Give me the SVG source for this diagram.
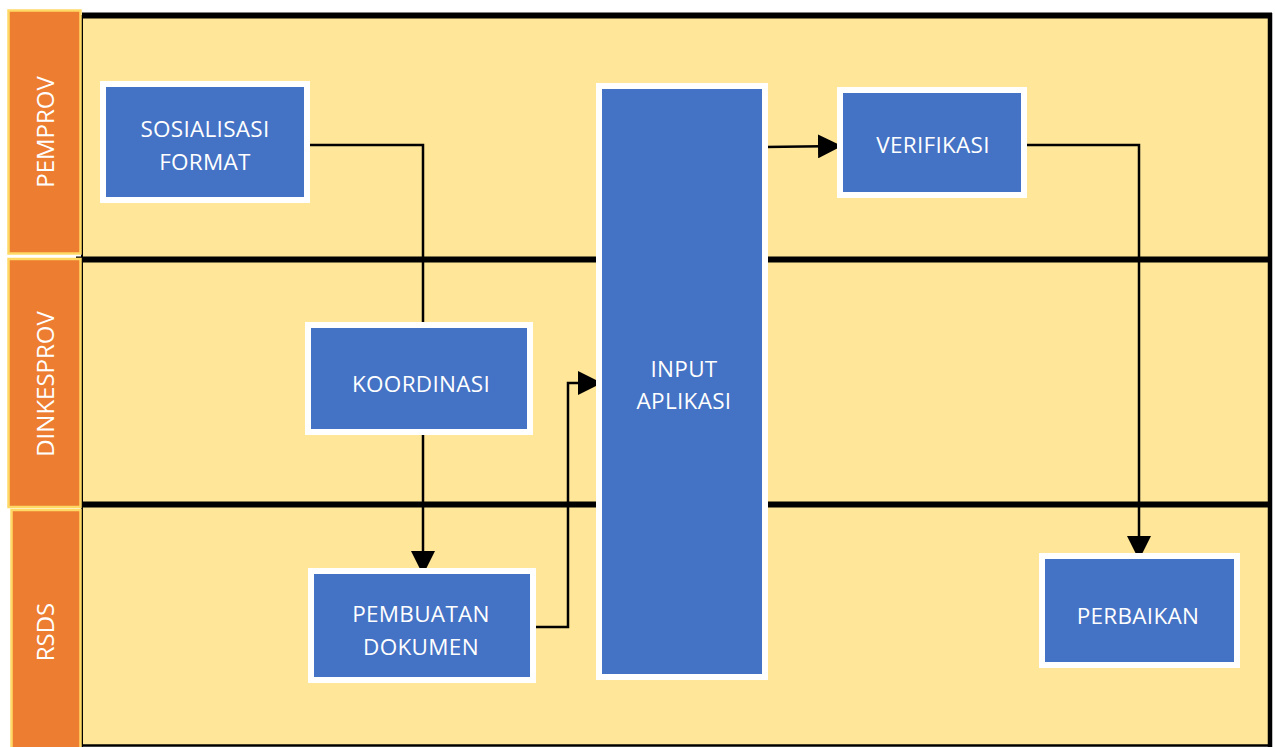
<svg xmlns="http://www.w3.org/2000/svg" width="1275" height="747" viewBox="0 0 1275 747">
<style>
.lane{fill:#ED7D31;stroke:#FFD966;stroke-width:2.5}
.lanetxt{fill:#FFFFFF;font-family:"Open Sans","Noto Sans",sans-serif;font-size:24px;text-anchor:middle}
.box{fill:#4472C4;stroke:#FFFFFF;stroke-width:6}
.txt{fill:#FFFFFF;font-family:"Open Sans","Noto Sans",sans-serif;font-size:22.5px;text-anchor:middle;letter-spacing:0.3px}
.sep{stroke:#000000;stroke-width:6;fill:none}
.con{stroke:#000000;stroke-width:2.5;fill:none}
</style>
<defs>
<marker id="arr" markerUnits="userSpaceOnUse" markerWidth="24" markerHeight="24" refX="23" refY="12" orient="auto">
<path d="M0,0 L24,12 L0,24 Z" fill="#000000"/>
</marker>
</defs>
<rect width="1275" height="747" fill="#FFFFFF"/>
<g id="lanes">
<rect x="82" y="15" width="1188" height="731" fill="#FFE699"/>
<line class="sep" x1="82" y1="15.5" x2="1272" y2="15.5"/>
<line class="sep" x1="76" y1="259.5" x2="1270" y2="259.5"/>
<line class="sep" x1="76" y1="504.5" x2="1270" y2="504.5"/>
<line x1="1270" y1="13" x2="1270" y2="747" stroke="#000000" stroke-width="4.5"/>
<line x1="82" y1="15" x2="82" y2="747" stroke="#000000" stroke-width="2"/>
<line x1="82" y1="745.5" x2="1272" y2="745.5" stroke="#000000" stroke-width="2.5"/>
<g id="lane-pemprov">
<rect class="lane" x="8.5" y="10.5" width="72" height="243"/>
<text class="lanetxt" x="54" y="132" transform="rotate(-90 54 132)">PEMPROV</text>
</g>
<g id="lane-dinkesprov">
<rect class="lane" x="8.5" y="259" width="72" height="248"/>
<text class="lanetxt" x="54" y="384" transform="rotate(-90 54 384)">DINKESPROV</text>
</g>
<g id="lane-rsds">
<rect class="lane" x="11.5" y="510" width="69" height="240"/>
<text class="lanetxt" x="54" y="632" transform="rotate(-90 54 632)">RSDS</text>
</g>
</g>
<g id="connectors">
<polyline class="con" points="307,145 423,145 423,325"/>
<polyline class="con" points="423,432 423,574" marker-end="url(#arr)"/>
<polyline class="con" points="533,627 568,627 568,383 601,383" marker-end="url(#arr)"/>
<polyline class="con" points="765,147 841,146" marker-end="url(#arr)"/>
<polyline class="con" points="1024,145 1139,145 1139,559" marker-end="url(#arr)"/>
</g>
<g id="node-input">
<rect class="box" x="599" y="86" width="166" height="591"/>
<text class="txt" x="684" y="377">INPUT</text>
<text class="txt" x="684" y="409">APLIKASI</text>
</g>
<g id="node-sosialisasi">
<rect class="box" x="103" y="84" width="204" height="116"/>
<text class="txt" x="205" y="137">SOSIALISASI</text>
<text class="txt" x="205" y="170">FORMAT</text>
</g>
<g id="node-koordinasi">
<rect class="box" x="308" y="325" width="222" height="107"/>
<text class="txt" x="421" y="392">KOORDINASI</text>
</g>
<g id="node-pembuatan">
<rect class="box" x="311" y="571" width="222" height="109"/>
<text class="txt" x="421" y="622">PEMBUATAN</text>
<text class="txt" x="421" y="655">DOKUMEN</text>
</g>
<g id="node-verifikasi">
<rect class="box" x="840" y="90" width="184" height="105"/>
<text class="txt" x="933" y="153">VERIFIKASI</text>
</g>
<g id="node-perbaikan">
<rect class="box" x="1042" y="556" width="195" height="109"/>
<text class="txt" x="1138" y="624">PERBAIKAN</text>
</g>
</svg>
